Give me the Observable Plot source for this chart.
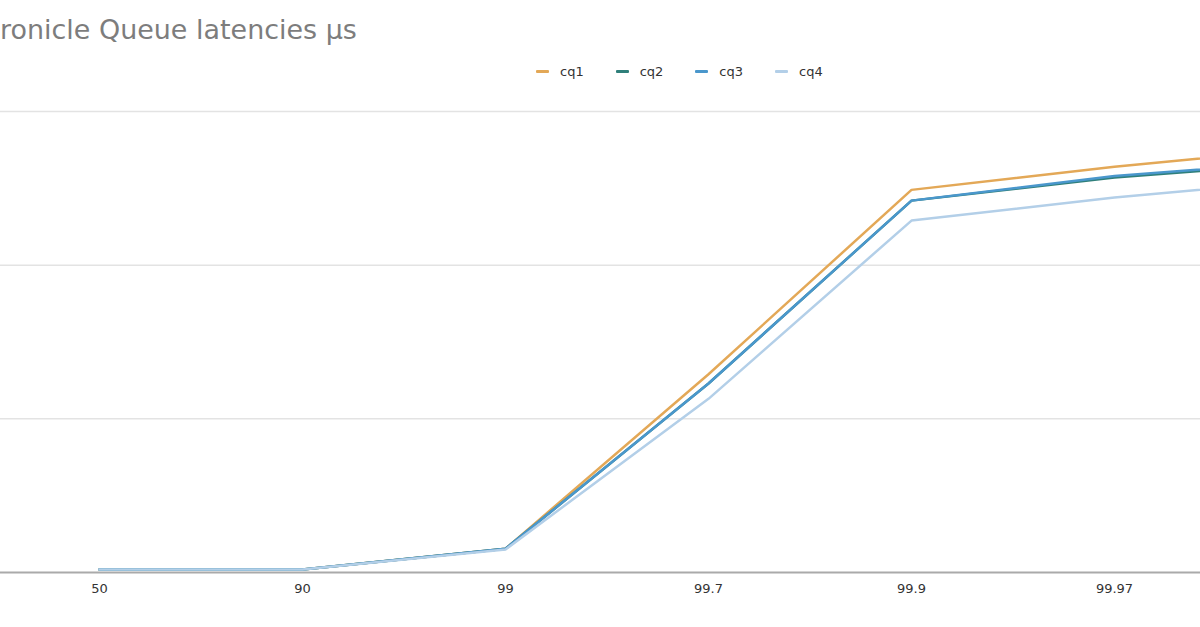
<!DOCTYPE html>
<html>
<head>
<meta charset="utf-8">
<script src="https://cdn.jsdelivr.net/npm/d3@7"></script>
<script src="https://cdn.jsdelivr.net/npm/@observablehq/plot@0.6"></script>
<style>
  html, body { margin: 0; padding: 0; background: #fff; }
  body { width: 1200px; height: 627px; overflow: hidden; position: relative; font-family: "DejaVu Sans", sans-serif; }
  #title { position: absolute; top: 14px; left: 0px; font-size: 26px; color: #7d7d7d; white-space: nowrap; line-height: 1.2; }
  #legend { position: absolute; top: 64px; left: 536px; display: flex; font-size: 13px; color: #333; white-space: nowrap; }
  #legend .item { display: flex; align-items: center; margin-right: 32px; }
  #legend .sw { width: 13px; height: 3.5px; border-radius: 1px; margin-right: 11px; }
  #chart { position: absolute; top: 90px; left: -80px; }
  #chart svg { max-width: none !important; }
</style>
</head>
<body>
<div id="title"><span id="tpre">Ch</span><span id="trest">ronicle Queue latencies μs</span></div>
<div id="legend"></div>
<div id="chart"></div>
<script>
const percentiles = ["50", "90", "99", "99.7", "99.9", "99.97", "99.99"];
const seriesNames = ["cq1", "cq2", "cq3", "cq4"];
const cq1 = [0.2, 0.2, 1.55, 12.9, 24.9, 26.4, 27.7];
const cq2 = [0.2, 0.2, 1.55, 12.3, 24.2, 25.7, 26.7];
const cq3 = [0.2, 0.2, 1.55, 12.3, 24.2, 25.8, 26.8];
const cq4 = [0.2, 0.2, 1.5, 11.3, 22.9, 24.4, 25.6];
const colors = ["#e3a857", "#2f7f7a", "#4a97cc", "#b3cfe8"];
const yTicks = [0, 10, 20, 30];

const seriesValues = [cq1, cq2, cq3, cq4];
const rows = [];
seriesNames.forEach((name, s) => {
  percentiles.forEach((p, i) => rows.push({series: name, p, v: seriesValues[s][i]}));
});

// title: fit the visible part to the reference width and clip the first letters off the left edge
const title = document.getElementById("title");
const rest = document.getElementById("trest");
const pre = document.getElementById("tpre");
const targetW = 357;
const fs = 26 * targetW / rest.getBoundingClientRect().width;
title.style.fontSize = fs + "px";
title.style.left = (-pre.getBoundingClientRect().width) + "px";

// legend
const legend = document.getElementById("legend");
seriesNames.forEach((name, s) => {
  const item = document.createElement("div");
  item.className = "item";
  const sw = document.createElement("div");
  sw.className = "sw";
  sw.style.background = colors[s];
  const label = document.createElement("span");
  label.textContent = name;
  item.appendChild(sw);
  item.appendChild(label);
  legend.appendChild(item);
});

const chart = Plot.plot({
  width: 1520,
  height: 522,
  marginLeft: 75,
  marginRight: 20,
  marginTop: 21,
  marginBottom: 40,
  style: { fontFamily: "DejaVu Sans, sans-serif", fontSize: "13px", color: "#333", background: "transparent", maxWidth: "none" },
  x: { type: "point", domain: percentiles, range: [177, 1398], padding: 0, label: null },
  y: { domain: [0, 30], label: null, axis: null },
  color: { domain: seriesNames, range: colors },
  marks: [
    Plot.ruleY(yTicks.filter(d => d > 0), { stroke: "#e3e3e3", strokeWidth: 1.5 }),
    Plot.line(rows, { x: "p", y: "v", z: "series", stroke: "series", strokeWidth: 2.5, curve: "linear" }),
    Plot.ruleY([0], { stroke: "#aaaaaa", strokeWidth: 2 }),
    Plot.axisX({ tickSize: 0, tickPadding: 11, label: null, fill: "#333" })
  ]
});
chart.style.maxWidth = "none";
document.getElementById("chart").appendChild(chart);
</script>
</body>
</html>
